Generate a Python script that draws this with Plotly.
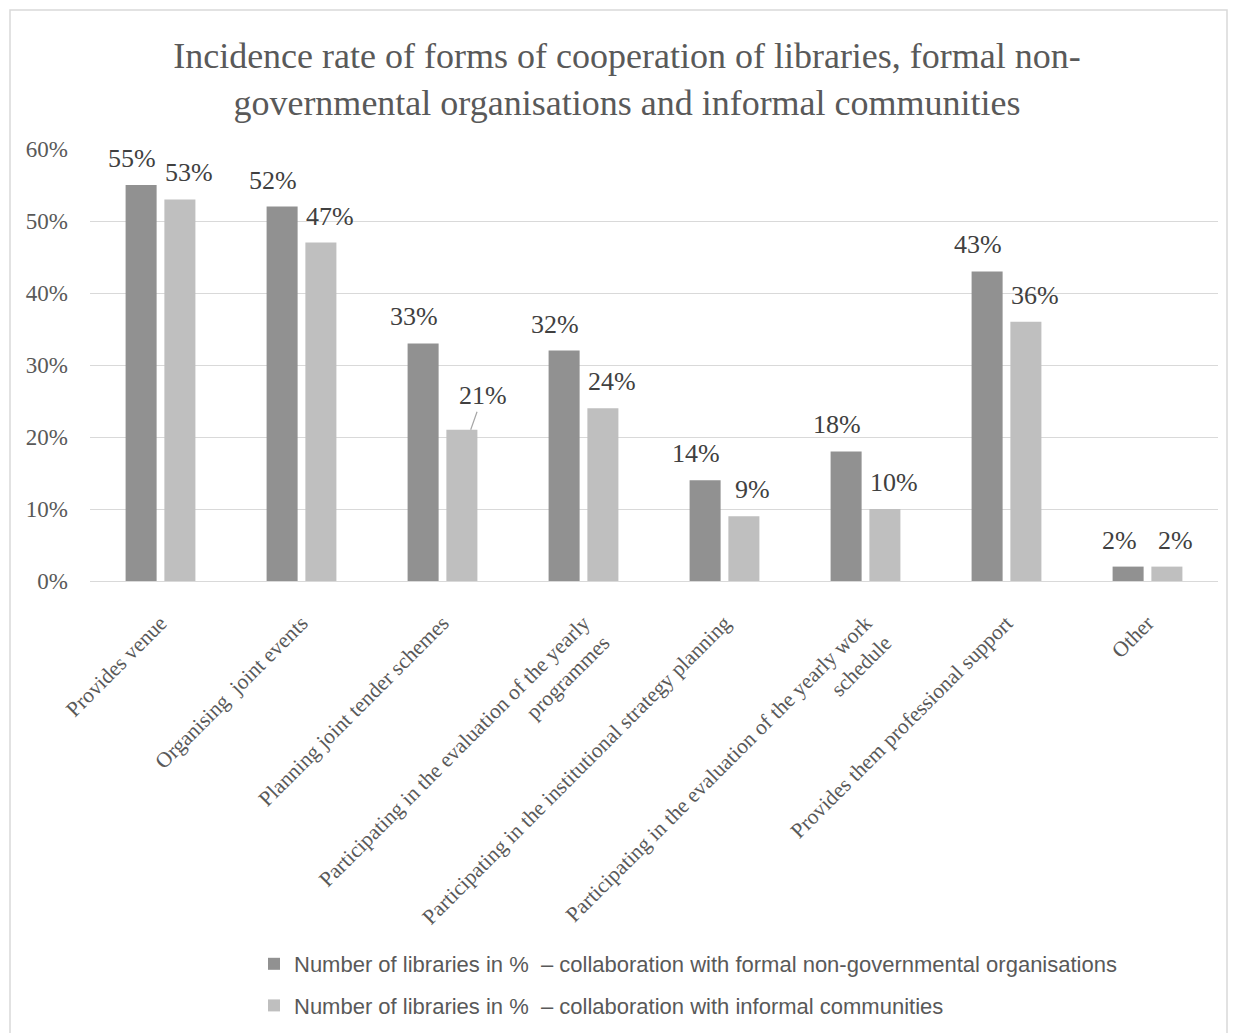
import plotly.graph_objects as go

# Forms of cooperation (x-axis categories)
categories = [
    "Provides venue",
    "Organising  joint events",
    "Planning joint tender schemes",
    "Participating in the evaluation of the yearly<br>programmes",
    "Participating in the institutional strategy planning",
    "Participating in the evaluation of the yearly work<br>schedule",
    "Provides them professional support",
    "Other",
]

# Share of libraries (%) per form of cooperation
formal_ngo = [55, 52, 33, 32, 14, 18, 43, 2]
informal_comm = [53, 47, 21, 24, 9, 10, 36, 2]

series_names = [
    "Number of libraries in %  – collaboration with formal non-governmental organisations",
    "Number of libraries in %  – collaboration with informal communities",
]

y_ticks = [0, 10, 20, 30, 40, 50, 60]
y_tick_labels = ["0%", "10%", "20%", "30%", "40%", "50%", "60%"]

DARK = "#919191"
LIGHT = "#bfbfbf"
TEXT = "#595959"
LABEL = "#404040"
SERIF = "Liberation Serif, Times New Roman, serif"

# Pixel geometry of the figure, used for the plot area margins and frame
W, H = 1236, 1033
L, R, T, B = 90, 18, 149, 452
PW, PH = W - L - R, H - T - B


def px_x(p):
    return (p - L) / PW


def px_y(p):
    return (H - B - p) / PH


fig = go.Figure()
fig.add_trace(go.Bar(
    x=categories, y=formal_ngo, name=series_names[0],
    marker=dict(color=DARK, line=dict(width=0)),
    legendgroup="a",
))
fig.add_trace(go.Bar(
    x=categories, y=informal_comm, name=series_names[1],
    marker=dict(color=LIGHT, line=dict(width=0)),
    legendgroup="b",
))

# Value labels above each bar; the 21% label is offset with a leader line
annotations = []
offsets = [-0.2, 0.2]
for s, vals in enumerate([formal_ngo, informal_comm]):
    for i, v in enumerate(vals):
        xcat = i + offsets[s]
        if s == 1 and i == 2:
            annotations.append(dict(
                x=xcat, y=v, xref="x", yref="y", text=f"{v}%",
                showarrow=True, arrowhead=0, arrowwidth=1.2, arrowcolor="#a6a6a6",
                ax=12, ay=-34, standoff=0,
                font=dict(family=SERIF, size=26, color=LABEL),
            ))
        else:
            annotations.append(dict(
                x=xcat, y=v, xref="x", yref="y", text=f"{v}%",
                showarrow=False, yanchor="bottom", yshift=10,
                font=dict(family=SERIF, size=26, color=LABEL),
            ))

fig.update_layout(
    width=W, height=H,
    margin=dict(l=L, r=R, t=T, b=B, autoexpand=False),
    paper_bgcolor="white", plot_bgcolor="white",
    barmode="group", bargap=0.45, bargroupgap=0.2,
    title=dict(
        text="Incidence rate of forms of cooperation of libraries, formal non-<br>governmental organisations and informal communities",
        x=px_x(627), xanchor="center", xref="paper",
        y=1 - 68 / H, yanchor="middle",
        font=dict(family=SERIF, size=36, color=TEXT),
    ),
    xaxis=dict(
        type="category",
        categoryorder="array", categoryarray=categories,
        range=[-0.5, len(categories) - 0.5],
        tickangle=-45,
        tickfont=dict(family=SERIF, size=21.5, color=TEXT),
        showline=True, linecolor="#d9d9d9", linewidth=1,
        showgrid=False, ticks="",
        ticklabelstandoff=20,
    ),
    yaxis=dict(
        range=[0, 60],
        tickvals=y_ticks, ticktext=y_tick_labels,
        tickfont=dict(family=SERIF, size=23, color=TEXT),
        showgrid=True, gridcolor="#d9d9d9", gridwidth=1.3,
        zeroline=False, showline=False, ticks="",
        ticklabelstandoff=21,
    ),
    legend=dict(
        orientation="v",
        x=px_x(254), xanchor="left",
        y=px_y(943), yanchor="top",
        font=dict(family="Liberation Sans Narrow, Arial Narrow, sans-serif", size=22, color=TEXT),
        tracegroupgap=10, itemwidth=30,
        bgcolor="rgba(0,0,0,0)",
    ),
    annotations=annotations,
    shapes=[dict(
        type="rect", xref="paper", yref="paper",
        x0=px_x(10), x1=px_x(1227), y0=px_y(10), y1=px_y(1045),
        line=dict(color="#d9d9d9", width=1.5), fillcolor="rgba(0,0,0,0)",
        layer="below",
    )],
)

fig.write_html("out.html")
